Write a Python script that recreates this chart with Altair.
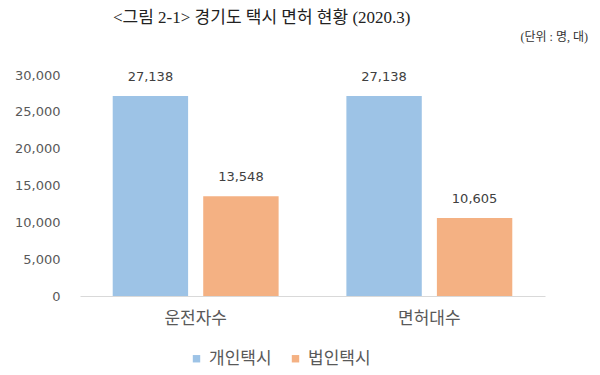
import altair as alt
import pandas as pd

categories = ["운전자수", "운전자수", "면허대수", "면허대수"]
types = ["개인택시", "법인택시", "개인택시", "법인택시"]
values = [27138, 13548, 27138, 10605]
cat_order = ["운전자수", "면허대수"]
type_order = ["개인택시", "법인택시"]
colors = ["#9DC3E6", "#F4B183"]
y_ticks = [0, 5000, 10000, 15000, 20000, 25000, 30000]
title_text = "<그림 2-1> 경기도 택시 면허 현황 (2020.3)"
unit_text = "(단위 : 명, 대)"

df = pd.DataFrame({"cat": categories, "type": types, "value": values})
FONT = "Noto Sans CJK KR"
NUMFONT = "DejaVu Sans"
TITLEFONT = "Liberation Serif, Noto Sans CJK KR"

x = alt.X("cat:N", sort=cat_order, title=None,
          scale=alt.Scale(paddingInner=0.29, paddingOuter=0.14),
          axis=alt.Axis(labelAngle=0, labelFontSize=17, labelColor="#595959",
                        labelFont=FONT, labelPadding=14, ticks=False,
                        domainColor="#d9d9d9", domainWidth=1))
xo = alt.XOffset("type:N", sort=type_order,
                 scale=alt.Scale(paddingInner=0.167, paddingOuter=0))
y = alt.Y("value:Q", title=None,
          scale=alt.Scale(domain=[0, 30000]),
          axis=alt.Axis(values=y_ticks, format=",.0f", grid=False, ticks=False,
                        domain=False, labelFontSize=13, labelColor="#595959",
                        labelFont=NUMFONT, labelPadding=20))

base = alt.Chart(df)
bars = base.mark_bar().encode(
    x=x, xOffset=xo, y=y,
    color=alt.Color("type:N", sort=type_order,
                    scale=alt.Scale(domain=type_order, range=colors),
                    legend=alt.Legend(title=None, orient="none", direction="horizontal",
                                      legendX=108, legendY=275, symbolType="square",
                                      symbolSize=55, labelFontSize=17, labelFont=FONT,
                                      labelColor="#595959", columnPadding=15,
                                      symbolStrokeWidth=0, labelOffset=4)),
)
labels = base.mark_text(baseline="middle", dy=-19, fontSize=13, font=NUMFONT,
                        color="#404040").encode(
    x=x, xOffset=xo, y=y, text=alt.Text("value:Q", format=",")
)
title = alt.Chart(pd.DataFrame({"t": [title_text]})).mark_text(
    align="left", baseline="middle", fontSize=17, font=TITLEFONT, color="#222222"
).encode(x=alt.value(33), y=alt.value(-57), text="t:N")
unit = alt.Chart(pd.DataFrame({"t": [unit_text]})).mark_text(
    align="right", baseline="middle", fontSize=12, font=TITLEFONT, color="#333333"
).encode(x=alt.value(508), y=alt.value(-38), text="t:N")

chart = alt.layer(bars, labels, title, unit).properties(
    width=465, height=221,
    autosize=alt.AutoSizeParams(type="none"),
    padding={"left": 72, "top": 67, "right": 47, "bottom": 84},
).configure_view(stroke=None)

chart.save("out.html", embed_options={"renderer": "svg", "actions": False})
